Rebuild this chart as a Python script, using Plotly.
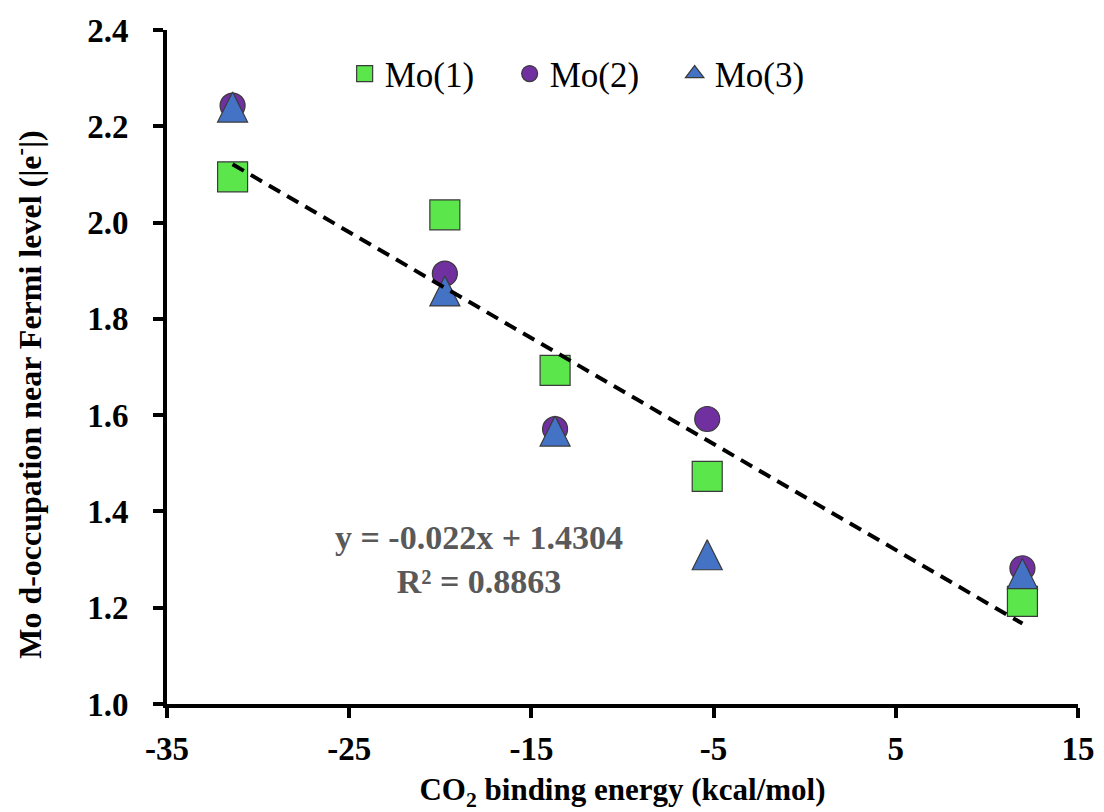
import plotly.graph_objects as go

# ---- data ----
binding_energy = [-31.4, -19.75, -13.7, -5.35, 11.95]
mo1_occ = [2.095, 2.016, 1.693, 1.473, 1.213]
mo2_occ = [2.243, 1.894, 1.571, 1.592, 1.282]
mo3_occ = [2.240, 1.858, 1.567, 1.310, 1.271]
trend_x = [-31.4, 11.95]
trend_y = [2.121, 1.167]
x_ticks = [-35, -25, -15, -5, 5, 15]
x_tick_labels = ["-35", "-25", "-15", "-5", "5", "15"]
y_ticks = [1.0, 1.2, 1.4, 1.6, 1.8, 2.0, 2.2, 2.4]
series_names = ["Mo(1)", "Mo(2)", "Mo(3)"]
eq_text = "y = -0.022x + 1.4304<br>R² = 0.8863"

SERIF = "Liberation Serif"
EDGE = "#3a3a3a"
GREEN, PURPLE, BLUE = "#5BE64B", "#7030A0", "#4472C4"

fig = go.Figure()
fig.add_trace(go.Scatter(
    x=binding_energy, y=mo1_occ, mode="markers", name=series_names[0],
    marker=dict(symbol="square", size=30, color=GREEN,
                line=dict(color=EDGE, width=1.2))))
fig.add_trace(go.Scatter(
    x=binding_energy, y=mo2_occ, mode="markers", name=series_names[1],
    marker=dict(symbol="circle", size=25, color=PURPLE,
                line=dict(color=EDGE, width=1.2))))
# triangles: equilateral-looking arrow shape, centred on the point
fig.add_trace(go.Scatter(
    x=binding_energy, y=mo3_occ, mode="markers", name=series_names[2],
    showlegend=False,
    marker=dict(symbol="arrow-down", angle=180, standoff=15, size=30,
                color=BLUE, line=dict(color=EDGE, width=1.2))))
# legend entry for the triangles
fig.add_trace(go.Scatter(
    x=[None], y=[None], mode="markers", name=series_names[2],
    marker=dict(symbol="triangle-up", size=18, color=BLUE,
                line=dict(color=EDGE, width=1.2))))
fig.add_trace(go.Scatter(
    x=trend_x, y=trend_y, mode="lines", showlegend=False, hoverinfo="skip",
    line=dict(color="black", width=4, dash="13px,8px")))

axis_common = dict(
    showgrid=False, zeroline=False, showline=True, linecolor="black",
    linewidth=4, ticks="outside", ticklen=10, tickwidth=4, tickcolor="black",
    automargin=False,
    tickfont=dict(family=SERIF, size=33, color="black", weight="bold"),
)

fig.update_layout(
    width=1104, height=812,
    margin=dict(l=167, r=26, t=30, b=108),
    plot_bgcolor="white", paper_bgcolor="white",
    xaxis=dict(range=[-35, 15], tickvals=x_ticks, ticktext=x_tick_labels,
               ticklabelstandoff=2,
               title=dict(text="CO<sub>2</sub> binding energy (kcal/mol)",
                          font=dict(family=SERIF, size=31, color="black", weight="bold"),
                          standoff=19),
               **axis_common),
    yaxis=dict(range=[1.0, 2.4], tickvals=y_ticks, tickformat=".1f",
               ticklabelstandoff=18, **axis_common),
    legend=dict(orientation="h", x=0.195, xanchor="left", y=0.935, yanchor="middle",
                font=dict(family=SERIF, size=35, color="black"),
                entrywidth=120, bgcolor="rgba(0,0,0,0)"),
    showlegend=True,
)

fig.add_annotation(
    text="Mo d-occupation near Fermi level (|e<sup>-</sup>|)",
    textangle=-90, xref="paper", yref="paper", x=-0.1535, y=0.459,
    xanchor="center", yanchor="middle", showarrow=False,
    font=dict(family=SERIF, size=32, color="black", weight="bold"))

fig.add_annotation(text=eq_text, xref="x", yref="y", x=-17.9, y=1.300,
                   showarrow=False, xanchor="center", yanchor="middle",
                   align="center",
                   font=dict(family=SERIF, size=34, color="#595959", weight="bold"))

fig.write_html("out.html", config={"displayModeBar": False},
               post_script="document.body.style.margin='0';")
